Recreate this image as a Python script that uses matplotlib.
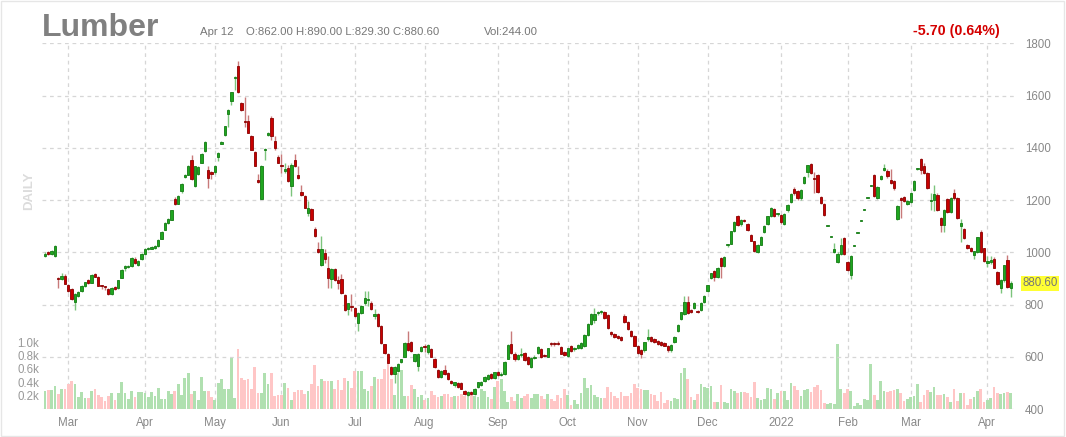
import matplotlib
matplotlib.use("Agg")
import matplotlib.pyplot as plt
import matplotlib.transforms as mtransforms
from matplotlib.patches import Rectangle
import pandas as pd

plt.rcParams["font.family"] = ["Liberation Sans", "DejaVu Sans"]

# daily lumber futures, Feb 2021 - Apr 12 2022
opens = [
    985, 1000, 995, 985, 903, 896, 911, 876, 858, 808,
    834, 851, 872, 895, 884, 915, 906, 874, 870, 860,
    840, 868, 862, 902, 940, 944, 946, 975, 950, 975,
    993, 1012, 1014, 1016, 1025, 1052, 1087, 1112, 1125, 1204,
    1186, 1234, 1288, 1297, 1352, 1253, 1300, 1342, 1387, 1316,
    1306, 1306, 1365, 1416, 1450, 1531, 1578, 1667, 1714, 1571,
    1504, 1501, 1447, 1383, 1278, 1204, 1392, 1450, 1514, 1425,
    1365, 1335, 1310, 1323, 1253, 1353, 1294, 1232, 1215, 1150,
    1166, 1091, 1013, 953, 996, 940, 898, 936, 893, 898,
    838, 781, 793, 787, 730, 768, 806, 818, 806, 755,
    762, 717, 647, 612, 561, 535, 545, 580, 600, 654,
    658, 585, 565, 623, 641, 618, 628, 590, 548, 522,
    550, 538, 509, 490, 499, 499, 468, 455, 465, 456,
    483, 490, 509, 516, 534, 520, 540, 530, 535, 592,
    647, 612, 593, 606, 615, 600, 561, 595, 615, 628,
    606, 600, 650, 652, 654, 636, 619, 602, 641, 628,
    632, 634, 640, 684, 726, 740, 768, 770, 770, 761,
    693, 687, 680, 676, 757, 734, 700, 678, 643, 624,
    624, 668, 675, 668, 662, 658, 652, 640, 624, 656,
    700, 744, 763, 808, 780, 788, 776, 780, 808, 852,
    902, 928, 906, 978, 949, 1026, 1033, 1080, 1137, 1109,
    1124, 1109, 1067, 1042, 1000, 1029, 1076, 1109, 1137, 1165,
    1145, 1143, 1109, 1160, 1194, 1244, 1235, 1206, 1266, 1308,
    1337, 1285, 1295, 1213, 1185, 1101, 1057, 1002, 963, 993,
    1053, 963, 912, 1024, 1072, 1120, 1162, 1207, 1255, 1297,
    1207, 1280, 1314, 1310, 1278, 1272, 1126, 1207, 1210, 1185,
    1194, 1237, 1317, 1358, 1329, 1304, 1196, 1201, 1220, 1130,
    1104, 1204, 1156, 1227, 1207, 1101, 1088, 1027, 1018, 990,
    1002, 1079, 1015, 960, 963, 976, 925, 864, 892, 972,
    862,
]
highs = [
    1000, 1003, 1008, 1028, 905, 921, 915, 880, 865, 845,
    852, 875, 888, 898, 918, 920, 910, 876, 872, 865,
    866, 872, 895, 936, 950, 950, 980, 980, 972, 998,
    1015, 1020, 1025, 1028, 1050, 1080, 1115, 1132, 1163, 1210,
    1220, 1265, 1300, 1335, 1374, 1332, 1330, 1380, 1425, 1330,
    1310, 1335, 1383, 1426, 1485, 1550, 1615, 1675, 1731, 1575,
    1595, 1525, 1450, 1386, 1300, 1335, 1398, 1460, 1520, 1445,
    1372, 1378, 1342, 1335, 1340, 1378, 1330, 1256, 1218, 1195,
    1170, 1095, 1038, 1064, 1013, 985, 940, 940, 910, 915,
    842, 806, 840, 790, 772, 800, 851, 850, 812, 782,
    768, 720, 650, 615, 565, 565, 575, 592, 655, 697,
    662, 612, 615, 640, 648, 648, 632, 595, 552, 550,
    568, 540, 512, 505, 502, 505, 472, 470, 468, 480,
    505, 508, 525, 535, 538, 542, 545, 540, 582, 648,
    697, 618, 610, 632, 618, 604, 600, 605, 640, 632,
    610, 635, 658, 656, 660, 640, 622, 635, 645, 638,
    648, 655, 686, 728, 766, 787, 775, 780, 776, 765,
    697, 690, 684, 680, 762, 738, 704, 682, 646, 628,
    658, 706, 680, 672, 666, 662, 655, 644, 648, 678,
    724, 772, 833, 833, 784, 808, 780, 808, 836, 876,
    922, 932, 942, 982, 985, 1032, 1083, 1118, 1142, 1128,
    1128, 1112, 1070, 1045, 1032, 1062, 1104, 1140, 1172, 1170,
    1152, 1148, 1150, 1184, 1226, 1248, 1240, 1244, 1292, 1336,
    1342, 1308, 1300, 1216, 1188, 1101, 1057, 1034, 1000, 1053,
    1058, 966, 988, 1024, 1072, 1120, 1162, 1207, 1255, 1300,
    1253, 1297, 1338, 1318, 1320, 1276, 1180, 1212, 1216, 1200,
    1230, 1275, 1322, 1362, 1340, 1308, 1226, 1258, 1225, 1134,
    1165, 1208, 1212, 1242, 1212, 1126, 1092, 1030, 1022, 1005,
    1060, 1084, 1018, 985, 985, 982, 930, 898, 952, 989,
    890,
]
lows = [
    982, 988, 990, 982, 862, 893, 878, 848, 818, 778,
    830, 848, 868, 880, 882, 904, 870, 858, 857, 835,
    836, 855, 860, 900, 930, 940, 944, 955, 948, 972,
    990, 1010, 1012, 1014, 1022, 1050, 1085, 1108, 1122, 1180,
    1183, 1228, 1285, 1295, 1278, 1248, 1295, 1340, 1385, 1246,
    1280, 1300, 1350, 1414, 1445, 1478, 1565, 1623, 1610, 1540,
    1480, 1455, 1390, 1330, 1265, 1204, 1355, 1445, 1430, 1390,
    1340, 1305, 1305, 1270, 1215, 1325, 1280, 1215, 1168, 1140,
    1122, 1060, 998, 948, 960, 865, 864, 890, 858, 842,
    776, 760, 776, 752, 700, 765, 800, 795, 778, 745,
    715, 650, 612, 575, 532, 500, 540, 575, 598, 622,
    620, 580, 545, 618, 620, 612, 598, 558, 520, 518,
    530, 512, 496, 486, 480, 475, 455, 450, 455, 453,
    480, 488, 505, 512, 515, 515, 525, 525, 532, 590,
    610, 585, 588, 600, 584, 568, 558, 590, 610, 597,
    598, 598, 640, 643, 645, 610, 602, 598, 620, 622,
    628, 630, 636, 680, 722, 730, 760, 765, 745, 705,
    680, 672, 668, 660, 730, 703, 675, 640, 612, 595,
    620, 662, 658, 652, 645, 640, 640, 620, 620, 652,
    696, 740, 758, 764, 766, 784, 766, 776, 804, 848,
    898, 890, 902, 902, 945, 1022, 1030, 1076, 1102, 1100,
    1114, 1083, 1042, 1000, 996, 1026, 1072, 1105, 1134, 1134,
    1140, 1110, 1105, 1156, 1190, 1220, 1200, 1202, 1262, 1290,
    1300, 1225, 1228, 1184, 1140, 1101, 1057, 998, 958, 990,
    990, 928, 899, 1024, 1072, 1120, 1162, 1207, 1255, 1210,
    1203, 1276, 1310, 1286, 1260, 1240, 1122, 1130, 1194, 1180,
    1190, 1233, 1315, 1300, 1300, 1242, 1162, 1157, 1158, 1079,
    1079, 1150, 1150, 1200, 1126, 1040, 1050, 1012, 1000, 976,
    998, 998, 962, 944, 955, 938, 876, 844, 888, 862,
    829.3,
]
closes = [
    995, 993, 1005, 1025, 896, 911, 880, 851, 821, 842,
    848, 872, 885, 884, 914, 906, 872, 870, 866, 840,
    862, 860, 893, 932, 946, 948, 978, 958, 968, 995,
    1012, 1016, 1022, 1025, 1048, 1076, 1112, 1128, 1160, 1184,
    1216, 1262, 1297, 1332, 1282, 1329, 1327, 1378, 1422, 1285,
    1298, 1332, 1380, 1424, 1482, 1546, 1612, 1671, 1612, 1546,
    1500, 1457, 1393, 1332, 1268, 1332, 1395, 1457, 1444, 1400,
    1342, 1330, 1320, 1272, 1336, 1330, 1285, 1220, 1170, 1168,
    1125, 1062, 1000, 1013, 973, 902, 936, 893, 884, 845,
    778, 804, 790, 755, 768, 794, 826, 822, 781, 762,
    717, 653, 615, 578, 535, 560, 572, 590, 651, 625,
    623, 610, 612, 636, 636, 644, 600, 561, 522, 546,
    533, 516, 499, 502, 484, 478, 459, 466, 458, 477,
    502, 505, 521, 532, 520, 540, 530, 535, 580, 645,
    615, 590, 606, 612, 586, 571, 597, 600, 636, 600,
    603, 632, 648, 648, 650, 612, 606, 632, 623, 634,
    645, 651, 684, 726, 764, 762, 772, 776, 748, 709,
    686, 677, 672, 664, 734, 706, 678, 643, 615, 611,
    656, 676, 662, 656, 650, 644, 642, 624, 645, 675,
    721, 770, 808, 767, 770, 805, 770, 805, 833, 873,
    919, 906, 940, 949, 982, 1029, 1080, 1114, 1105, 1124,
    1118, 1086, 1045, 1004, 1029, 1058, 1101, 1137, 1168, 1137,
    1149, 1114, 1147, 1181, 1223, 1225, 1206, 1240, 1289, 1333,
    1304, 1282, 1232, 1187, 1143, 1101, 1057, 1011, 995, 1027,
    995, 931, 985, 1024, 1072, 1120, 1162, 1207, 1255, 1214,
    1250, 1293, 1323, 1291, 1265, 1246, 1178, 1200, 1198, 1198,
    1227, 1272, 1319, 1314, 1304, 1246, 1199, 1224, 1162, 1104,
    1162, 1156, 1207, 1207, 1130, 1113, 1053, 1018, 1006, 1003,
    1057, 1002, 967, 965, 972, 941, 880, 895, 950, 868,
    880.6,
]
volumes = [
    271, 286, 286, 345, 222, 306, 306, 370, 419, 370,
    173, 256, 158, 158, 271, 306, 207, 173, 123, 197,
    237, 138, 237, 404, 237, 148, 271, 187, 256, 256,
    237, 173, 256, 197, 320, 148, 148, 271, 222, 271,
    370, 207, 468, 532, 222, 271, 138, 483, 271, 271,
    187, 138, 384, 454, 296, 296, 764, 158, 897, 468,
    434, 454, 306, 631, 246, 246, 532, 370, 532, 197,
    207, 207, 384, 320, 138, 256, 286, 286, 222, 271,
    370, 665, 345, 444, 419, 419, 419, 296, 434, 286,
    468, 419, 320, 567, 567, 567, 306, 271, 345, 483,
    454, 444, 592, 690, 454, 207, 542, 582, 197, 197,
    355, 306, 173, 207, 138, 158, 271, 207, 173, 197,
    222, 222, 173, 197, 197, 222, 197, 222, 222, 197,
    173, 296, 271, 173, 148, 335, 419, 454, 271, 99,
    173, 123, 222, 158, 197, 222,
    158, 222, 222, 197, 148, 222, 148, 123, 207, 158,
    306, 207, 59, 138, 74, 237, 468, 320, 355, 207,
    187, 158, 158, 335, 256, 197, 158, 256, 197, 197,
    246, 370, 320, 296, 286, 286, 222, 207, 123, 256,
    89, 138, 123, 158, 148, 532, 616, 444, 173, 138,
    222, 370, 335, 320, 345, 108, 108, 355, 108, 89,
    306, 271, 237, 256, 256, 237, 187, 404, 158, 138,
    148, 320, 296, 148, 237, 271, 271, 138, 384, 345,
    286, 197, 286, 306, 256, 335, 355, 286, 89, 74,
    89, 74, 976, 296, 246, 296, 271, 39, 89, 59,
    148, 138, 680, 207, 138, 419, 271, 256, 271, 286,
    306, 237, 123, 148, 173, 197, 370, 99, 207, 286,
    256, 335, 207, 207, 222, 173, 108, 306, 123, 237,
    246, 59, 148, 173, 271, 306, 108, 138, 158, 335,
    246, 222, 246, 260, 244,
]
holidays = ["2021-04-02", "2021-05-31", "2021-07-05", "2021-09-06",
            "2021-11-25", "2021-12-24", "2022-01-17", "2022-02-21"]

n = len(closes)
dates = pd.bdate_range(end="2022-04-12", periods=n, freq="C", holidays=holidays)
x = list(range(n))

up = [c >= o for o, c in zip(opens, closes)]
body_col = ["#1fa61f" if u else "#c80000" for u in up]
edge_col = ["#137a13" if u else "#8a0000" for u in up]
wick_col = ["#7cc47c" if u else "#c87a7a" for u in up]
vol_col = ["#b0e0b0" if u else "#ffc6c6" for u in up]

# month ticks at first trading day of each month
tick_idx = [i for i in range(1, n) if dates[i].month != dates[i - 1].month]
tick_lab = [str(dates[i].year) if dates[i].month == 1 else dates[i].strftime("%b") for i in tick_idx]

W, H = 1066, 437
fig = plt.figure(figsize=(W / 100, H / 100), dpi=100)
ax = fig.add_axes([42 / W, 28 / H, 973 / W, 365.7 / H])
ax2 = ax.twinx()

# volume, left axis
ax.bar(x, volumes, width=0.82, color=vol_col, linewidth=0, zorder=2)
ax.set_ylim(0, 5480)
ax.set_yticks([200, 400, 600, 800, 1000])
ax.set_yticklabels(["0.2k", "0.4k", "0.6k", "0.8k", "1.0k"])
ax.set_xlim(-0.9, n - 1 + 1.3)
ax.set_xticks(tick_idx)
ax.set_xticklabels(tick_lab)
ax.tick_params(axis="y", length=0, pad=2, labelsize=8.3, labelcolor="#999999")
ax.tick_params(axis="x", length=0, pad=6, labelsize=8.3, labelcolor="#888888")
ax.grid(axis="x", linestyle=(0, (3, 3)), color="#d6d6d6", linewidth=0.9, zorder=0)
ax.set_axisbelow(True)

# price candles, right axis
ax2.vlines(x, lows, highs, colors=wick_col, linewidth=1.0, zorder=3)
bottoms = [min(o, c) for o, c in zip(opens, closes)]
heights = [max(abs(c - o), 4) for o, c in zip(opens, closes)]
ax2.bar(x, heights, bottom=bottoms, width=0.7, color=body_col,
        edgecolor=edge_col, linewidth=0.6, zorder=4)
ax2.set_ylim(400, 1800)
ax2.set_yticks(range(400, 1801, 200))
ax2.tick_params(axis="y", length=0, pad=7, labelsize=8.3, labelcolor="#888888")
ax2.grid(axis="y", linestyle=(0, (3, 3)), color="#d6d6d6", linewidth=0.9, zorder=0)
ax2.set_xlim(-0.9, n - 1 + 1.3)

for a in (ax, ax2):
    for s in a.spines.values():
        s.set_visible(False)

# last price tag
trans = mtransforms.blended_transform_factory(ax2.transAxes, ax2.transData)
ax2.text(1.0075, closes[-1], f"{closes[-1]:.2f}", transform=trans, ha="left", va="center",
         fontsize=8.3, color="#777777",
         bbox=dict(boxstyle="square,pad=0.15", facecolor="#ffff33", edgecolor="none"))

# header texts
fig.text(42 / W, 1 - 36 / H, "Lumber", fontsize=23, fontweight="bold", color="#808080", va="baseline")
fig.text(200 / W, 1 - 35 / H, "Apr 12", fontsize=8.2, color="#777777", va="baseline")
fig.text(246 / W, 1 - 35 / H, "O:862.00 H:890.00 L:829.30 C:880.60", fontsize=8.2,
         color="#777777", va="baseline")
fig.text(484 / W, 1 - 35 / H, "Vol:244.00", fontsize=8.2, color="#777777", va="baseline")
fig.text(1000 / W, 1 - 35 / H, "-5.70 (0.64%)", fontsize=10.3, fontweight="bold",
         color="#d40000", ha="right", va="baseline")
fig.text(29 / W, 1 - 191 / H, "DAILY", fontsize=9.5, fontweight="bold", color="#dcdcdc",
         rotation=90, ha="center", va="center")

fig.patches.append(Rectangle((0.001, 0.002), 0.997, 0.996, transform=fig.transFigure,
                             fill=False, edgecolor="#e6e6e6", linewidth=1))

fig.savefig("out.png", dpi=100)
